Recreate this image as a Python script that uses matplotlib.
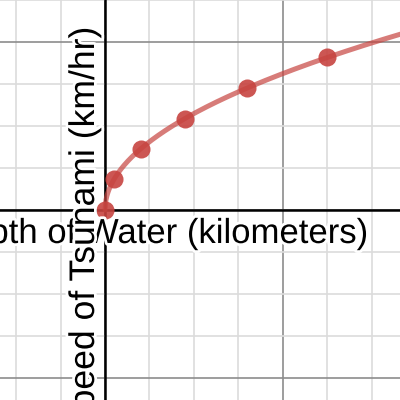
import matplotlib.pyplot as plt
import matplotlib.patheffects as pe
import numpy as np
from matplotlib.ticker import MultipleLocator

# depth of water (km) and tsunami speed (km/hr)
depth_km = [0.0, 0.2, 0.8, 1.8, 3.2, 5.0]
speed_kmh = [0, 147, 290, 436, 582, 729]

x_label = "Depth of Water (kilometers)"
y_label = "Speed of Tsunami (km/hr)"

red = "#c74440"

fig = plt.figure(figsize=(4, 4), dpi=100)
ax = fig.add_axes([0, 0, 1, 1])
ax.set_xlim(-2.36, 6.63)
ax.set_ylim(-907, 1002)

ax.xaxis.set_major_locator(MultipleLocator(4))
ax.xaxis.set_minor_locator(MultipleLocator(1))
ax.yaxis.set_major_locator(MultipleLocator(800))
ax.yaxis.set_minor_locator(MultipleLocator(200))
ax.grid(which="minor", color="#dcdcdc", linewidth=1.2, zorder=0)
ax.grid(which="major", color="#8c8c8c", linewidth=1.2, zorder=0)
ax.tick_params(which="both", length=0, labelbottom=False, labelleft=False)
for s in ax.spines.values():
    s.set_visible(False)
ax.set_axisbelow(True)

ax.axhline(0, color="black", linewidth=1.8, zorder=1)
ax.axvline(0, color="black", linewidth=1.8, zorder=1)

# square-root fit through the points
d = np.array(depth_km)
v = np.array(speed_kmh)
coef = np.sum(v * np.sqrt(d)) / np.sum(d)
xs = np.linspace(0, 6.7, 300)
ax.plot(xs, coef * np.sqrt(xs), color=red, alpha=0.7, linewidth=3.6,
        solid_capstyle="round", zorder=2)
ax.plot(depth_km, speed_kmh, "o", color=red, alpha=0.9, markersize=13,
        markeredgewidth=0, zorder=3)

halo = [pe.withStroke(linewidth=4, foreground="white")]
fig.text(369 / 400, 1 - 243 / 400, x_label, ha="right", va="baseline",
         fontsize=25, family="Liberation Sans", path_effects=halo, zorder=4)
fig.text(94 / 400, 1 - 27 / 400, y_label, ha="right", va="baseline",
         rotation=90, rotation_mode="anchor",
         fontsize=25.6, family="Liberation Sans", path_effects=halo, zorder=5)

fig.savefig("out.png", dpi=100)
